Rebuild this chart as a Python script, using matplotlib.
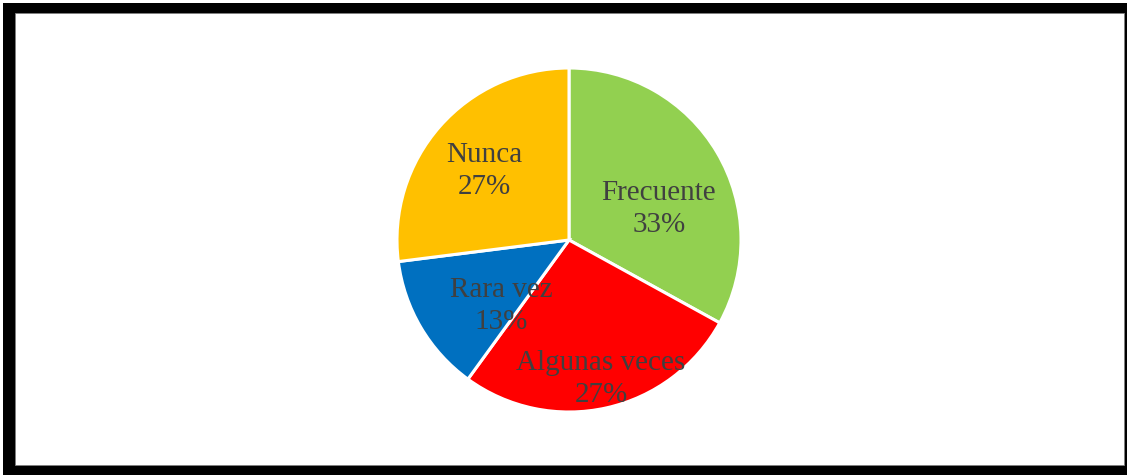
import matplotlib.pyplot as plt
from matplotlib.patches import Rectangle

plt.rcParams['font.family'] = ['Liberation Serif', 'DejaVu Serif']

categories = ['Frecuente', 'Algunas veces', 'Rara vez', 'Nunca']
percent = [33, 27, 13, 27]
colors = ['#92D050', '#FF0000', '#0070C0', '#FFC000']

# label centres in pie units (radius = 1)
label_xy = [(0.523, 0.180), (0.186, -0.809), (-0.395, -0.384), (-0.494, 0.404)]

W, H = 1127, 475
fig = plt.figure(figsize=(W / 100, H / 100), dpi=100)

# black frame around the chart area (kept behind the axes)
fig.patches.append(Rectangle((3 / W, 0), 1 - 3 / W, 1 - 3 / H, transform=fig.transFigure,
                             facecolor='black', edgecolor='none', zorder=-2))
fig.patches.append(Rectangle((15 / W, 10 / H), (1124 - 15) / W, (465 - 13) / H,
                             transform=fig.transFigure, facecolor='white',
                             edgecolor='#808080', linewidth=0.6, zorder=-1))

cx, cy, r = 569, 240, 172
ax = fig.add_axes([(cx - r) / W, (H - cy - r) / H, 2 * r / W, 2 * r / H])
wedges, texts = ax.pie(percent, colors=colors, startangle=90, counterclock=False,
                       radius=1, wedgeprops=dict(edgecolor='white', linewidth=2.2))

for (x, y), name, p in zip(label_xy, categories, percent):
    ax.text(x, y, f'{name}\n{p}%', ha='center', va='center', fontsize=21,
            color='#404040', linespacing=1.3, zorder=5)

ax.set_xlim(-1, 1)
ax.set_ylim(-1, 1)
ax.set_aspect('equal')
ax.axis('off')

fig.savefig('out.png', dpi=100)
